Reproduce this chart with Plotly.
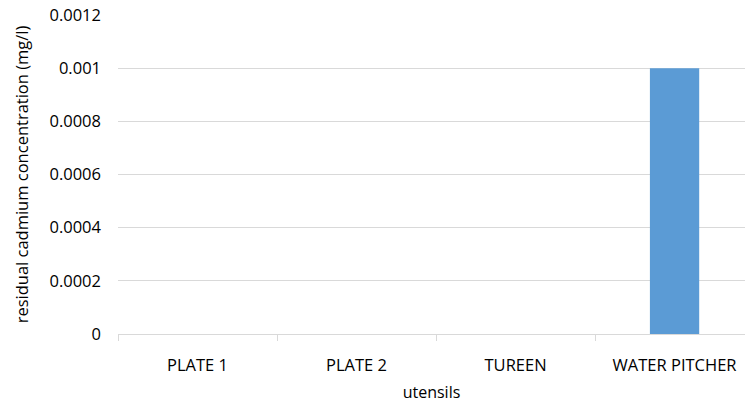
import plotly.graph_objects as go

# Residual cadmium per utensil
utensils = ["PLATE 1", "PLATE 2", "TUREEN", "WATER PITCHER"]
cadmium_mg_l = [0, 0, 0, 0.001]

y_ticks = [0, 0.0002, 0.0004, 0.0006, 0.0008, 0.001, 0.0012]
y_tick_labels = ["0", "0.0002", "0.0004", "0.0006", "0.0008", "0.001", "0.0012"]

font_family = "Open Sans, Liberation Sans, sans-serif"
grid = "#d9d9d9"

fig = go.Figure(
    go.Bar(
        x=utensils,
        y=cadmium_mg_l,
        marker=dict(color="#5b9bd5", line=dict(width=0)),
    )
)

fig.update_layout(
    width=745,
    height=404,
    margin=dict(l=118, r=0, t=15, b=70),
    paper_bgcolor="white",
    plot_bgcolor="white",
    bargap=0.69,
    showlegend=False,
    font=dict(family=font_family, size=16, color="#000000"),
)

fig.update_xaxes(
    range=[-0.5, 3.443],
    showline=True,
    linecolor=grid,
    linewidth=1,
    ticks="outside",
    tickson="boundaries",
    tickcolor=grid,
    ticklen=6,
    ticklabelstandoff=16,
    tickfont=dict(size=16.5),
    title=dict(text="utensils", font=dict(size=16), standoff=12),
    showgrid=False,
)

fig.update_yaxes(
    range=[0, 0.0012],
    tickvals=y_ticks,
    ticktext=y_tick_labels,
    showgrid=True,
    gridcolor=grid,
    gridwidth=1,
    zeroline=False,
    ticklabelstandoff=16,
    tickfont=dict(size=16.5),
    title=dict(text="residual cadmium concentration (mg/l)", font=dict(size=16.5), standoff=16),
)

fig.write_html("out.html")
